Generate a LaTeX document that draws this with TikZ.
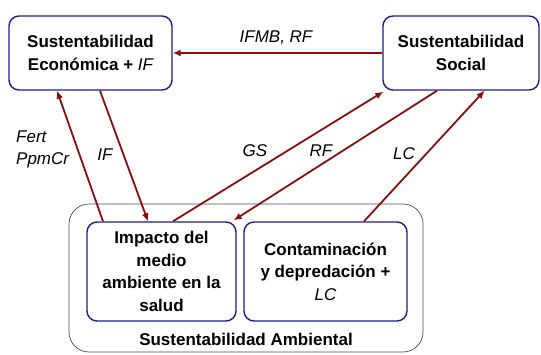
\documentclass[tikz,border=0pt]{standalone}
\usepackage{fontspec}
\setmainfont{Liberation Sans}
\usepackage{tikz}
\usetikzlibrary{shapes,arrows,arrows.meta,positioning,fit}
\definecolor{linkred}{RGB}{138,14,14}
\definecolor{boxblue}{RGB}{28,28,150}

\begin{document}
\begin{tikzpicture}[x=1pt,y=-1pt]
			\tikzstyle{Box} 	= [draw=boxblue, line width=1.4pt, fill=white, rounded corners=10pt, inner sep=0pt, align=center, font=\fontsize{17}{22.5}\selectfont\bfseries]
			\tikzstyle{Outer}	= [draw=black!70, line width=0.7pt, rounded corners=20pt, inner sep=0pt]
			\tikzstyle{Label}	= [font=\fontsize{17}{22.5}\selectfont\bfseries, inner sep=0pt]
			\tikzstyle{Link}	= [draw=linkred, line width=1.8pt, -{Latex[length=8pt,width=7pt]}]
			\tikzstyle{Tag}		= [font=\fontsize{17}{22}\selectfont\itshape, inner sep=0pt, align=left]
			
			\useasboundingbox (0,0) rectangle (541,354);
			
			\node (amb) at (246,278) [Outer, minimum width=354pt, minimum height=148pt] {};
			\node (ambtxt) at (246,339) [Label] {Sustentabilidad Ambiental};
			
			\node (eco) at (90.5,53) [Box, minimum width=163pt, minimum height=74pt] {Sustentabilidad\\Económica + {\normalfont\itshape IF}};
			\node (soc) at (461,53) [Box, minimum width=156pt, minimum height=74pt] {Sustentabilidad\\Social};
			\node (imp) at (161.5,271.5) [Box, minimum width=149pt, minimum height=99pt] {Impacto del\\medio\\ambiente en la\\salud};
			\node (con) at (325.5,271.5) [Box, minimum width=163pt, minimum height=99pt] {Contaminación\\y depredación +\\{\normalfont\itshape LC}};
			
			\node (tifmb) at (276,38) [Tag] {IFMB, RF};
			\node (tfert) at (16,149) [Tag, anchor=west] {Fert\\PpmCr};
			\node (tif) at (105,155) [Tag] {IF};
			\node (tgs) at (255,151) [Tag] {GS};
			\node (trf) at (321,151) [Tag] {RF};
			\node (tlc) at (404,154) [Tag] {LC};
			
			\draw [Link] (soc.west) to (eco.east);
			\draw [Link] ([xshift=-58.5pt]imp.north) to ([xshift=-33.5pt]eco.south);
			\draw [Link] ([xshift=9.5pt]eco.south) to ([xshift=-13.5pt]imp.north);
			\draw [Link] ([xshift=11.5pt]imp.north) to ([xshift=1pt,yshift=-1pt]soc.south west);
			\draw [Link] ([xshift=-24pt]soc.south) to ([xshift=-3pt,yshift=1pt]imp.north east);
			\draw [Link] ([xshift=38.5pt]con.north) to ([xshift=23.5pt]soc.south);
		\end{tikzpicture}
\end{document}
